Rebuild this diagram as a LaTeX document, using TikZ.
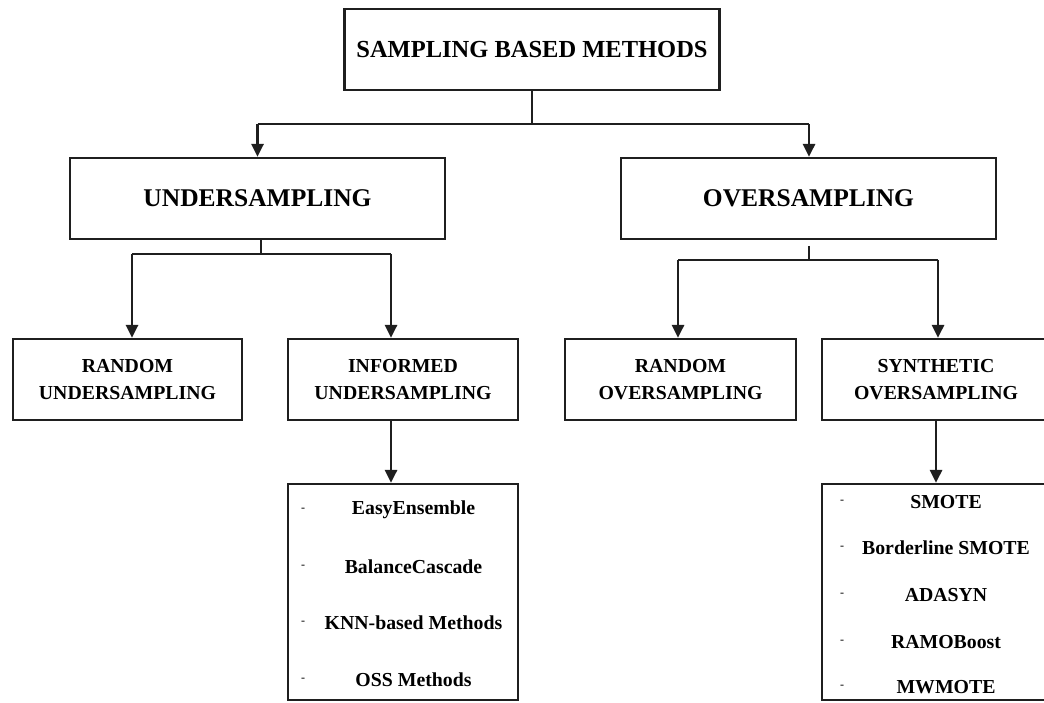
\documentclass[tikz,border=0pt]{standalone}
\usepackage{fontspec}
\setmainfont{Liberation Serif}
\usetikzlibrary{arrows.meta}
\begin{document}
\begin{tikzpicture}[x=1pt,y=-1pt,
  box/.style={draw=black!88, line width=2.2pt, fill=white, inner sep=0pt, align=center, font=\bfseries},
  big/.style={box, minimum height=81pt, font=\fontsize{25.5}{29}\selectfont\bfseries},
  mid/.style={box, minimum height=81pt, font=\fontsize{24.5}{29}\selectfont\bfseries},
  small/.style={box, minimum height=81pt, font=\fontsize{19.8}{27}\selectfont\bfseries},
  listbox/.style={draw=black!88, line width=2.2pt, inner sep=0pt},
  item/.style={inner sep=0pt, font=\fontsize{19.8}{23}\selectfont\bfseries},
  dashmark/.style={inner sep=0pt, font=\fontsize{12}{14}\selectfont},
  conn/.style={draw=black!88, line width=2.8pt},
  arr/.style={conn, -{Triangle[length=13pt,width=12pt]}}
]
\useasboundingbox (0,0) rectangle (1044,703);
\clip (0,0) rectangle (1044,703);

% boxes
\node[mid, minimum width=375pt] (top) at (532,49.5) {SAMPLING BASED METHODS};
\node[big, minimum width=375pt] (under) at (257.5,198.5) {UNDERSAMPLING};
\node[big, minimum width=375pt] (over) at (808.5,198.5) {OVERSAMPLING};
\node[small, minimum width=229pt] (ru) at (127.5,379.5) {RANDOM\\UNDERSAMPLING};
\node[small, minimum width=230pt] (iu) at (403,379.5) {INFORMED\\UNDERSAMPLING};
\node[small, minimum width=231pt] (ro) at (680.5,379.5) {RANDOM\\OVERSAMPLING};
\node[small, minimum width=228pt] (so) at (936,379.5) {SYNTHETIC\\OVERSAMPLING};
\node[listbox, minimum width=230pt, minimum height=216pt] (il) at (403,592) {};
\node[listbox, minimum width=248pt, minimum height=216pt] (sl) at (946,592) {};

% list items (informed)
\node[item] (i1) at (413.5,510) {EasyEnsemble};
\node[item] (i2) at (413.5,567) {BalanceCascade};
\node[item] (i3) at (413.5,623) {KNN-based Methods};
\node[item] (i4) at (413.5,680) {OSS Methods};
\foreach \y/\n in {510/a,567/b,623/c,680/d}
  \node[dashmark] (id\n) at (303,\y) {-};

% list items (synthetic)
\node[item] (s1) at (946,502) {SMOTE};
\node[item] (s2) at (946,548) {Borderline SMOTE};
\node[item] (s3) at (946,595) {ADASYN};
\node[item] (s4) at (946,642) {RAMOBoost};
\node[item] (s5) at (946,687) {MWMOTE};
\foreach \y/\n in {502/a,548/b,595/c,642/d,687/e}
  \node[dashmark] (sd\n) at (842,\y) {-};

% junction coordinates
\coordinate (j0) at (532,124);
\coordinate (jl) at (257.5,124);
\coordinate (jr) at (809,124);
\coordinate (u0) at (261,254);
\coordinate (ul) at (132,254);
\coordinate (ur) at (391,254);
\coordinate (o0) at (809,246);
\coordinate (o1) at (809,260);
\coordinate (ol) at (678,260);
\coordinate (or) at (938,260);
\coordinate (ia) at (391,420);
\coordinate (sa) at (936,420);

% connectors
\draw[conn] (top.south) -- (j0);
\draw[conn] (jl) -- (jr);
\draw[arr] (jl) -- (under.north);
\draw[arr] (jr) -- (jr |- over.north);

\draw[conn] (u0 |- under.south) -- (u0);
\draw[conn] (ul) -- (ur);
\draw[arr] (ul) -- (ul |- ru.north);
\draw[arr] (ur) -- (ur |- iu.north);

\draw[conn] (o0) -- (o1);
\draw[conn] (ol) -- (or);
\draw[arr] (ol) -- (ol |- ro.north);
\draw[arr] (or) -- (or |- so.north);

\draw[arr] (ia) -- (ia |- il.north);
\draw[arr] (sa) -- (sa |- sl.north);
\end{tikzpicture}
\end{document}
